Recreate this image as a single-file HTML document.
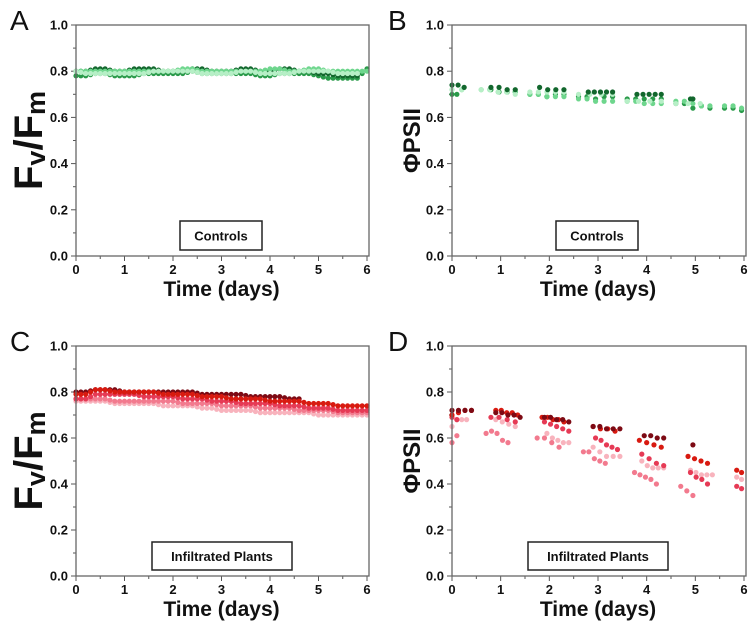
<!DOCTYPE html>
<html><head><meta charset="utf-8"><style>
body{margin:0;background:#fff}
svg{display:block;font-family:"Liberation Sans",Arial,sans-serif}
</style></head><body>
<svg id="fig" width="750" height="624" viewBox="0 0 750 624"></svg>
<script>
// ---- Data ----
const xTicks = [0,1,2,3,4,5,6];
const yTicks = [0.0,0.2,0.4,0.6,0.8,1.0];
const yTickLabels = ["0.0","0.2","0.4","0.6","0.8","1.0"];
const xTickLabels = ["0","1","2","3","4","5","6"];

// Panel A & C: continuous series sampled every 0.2 day from 0 to 6
const denseTimes = [0,0.2,0.4,0.6,0.8,1,1.2,1.4,1.6,1.8,2,2.2,2.4,2.6,2.8,3,3.2,3.4,3.6,3.8,4,4.2,4.4,4.6,4.8,5,5.2,5.4,5.6,5.8,6];
const aDark  = [0.80,0.80,0.81,0.81,0.80,0.80,0.81,0.81,0.81,0.80,0.80,0.80,0.81,0.81,0.80,0.80,0.80,0.81,0.81,0.80,0.80,0.81,0.81,0.80,0.80,0.79,0.79,0.78,0.78,0.78,null];
const aMid   = [0.78,0.78,0.79,0.79,0.78,0.78,0.78,0.79,0.79,0.79,0.79,0.79,0.80,0.79,0.79,0.79,0.79,0.79,0.79,0.78,0.78,0.79,0.79,0.79,0.79,0.78,0.77,0.77,0.77,0.77,0.81];
const aLight = [0.80,0.80,0.80,0.80,0.80,0.80,0.80,0.80,0.80,0.80,0.80,0.81,0.81,0.80,0.80,0.80,0.80,0.80,0.80,0.80,0.81,0.81,0.80,0.80,0.81,0.81,0.80,0.80,0.80,0.80,0.80];
const aPale  = [0.80,0.79,0.79,0.79,0.79,0.79,0.79,0.79,0.80,0.80,0.80,0.80,0.80,0.79,0.79,0.79,0.79,0.80,0.80,0.79,0.79,0.79,0.79,0.80,0.80,0.80,0.80,0.79,0.79,0.79,null];

const cDark   = [0.80,0.80,0.81,0.81,0.81,0.80,0.80,0.80,0.80,0.80,0.80,0.80,0.80,0.79,0.79,0.79,0.79,0.79,0.78,0.78,0.78,0.78,0.77,0.77,null,null,null,null,null,null,null];
const cRed    = [0.79,0.79,0.81,0.81,0.80,0.80,0.80,0.80,0.80,0.79,0.79,0.79,0.79,0.78,0.78,0.78,0.77,0.77,0.77,0.77,0.76,0.76,0.76,0.76,0.75,0.75,0.75,0.74,0.74,0.74,0.74];
const cCrimson= [0.77,0.77,0.79,0.79,0.79,0.79,0.79,0.78,0.78,0.78,0.78,0.77,0.77,0.77,0.76,0.76,0.76,0.75,0.75,0.75,0.75,0.74,0.74,0.74,0.73,0.73,0.73,0.72,0.72,0.72,0.72];
const cPink   = [0.77,0.77,0.77,0.77,0.76,0.76,0.76,0.76,0.76,0.76,0.76,0.75,0.75,0.75,0.75,0.74,0.74,0.74,0.74,0.73,0.73,0.73,0.73,0.72,0.72,0.72,0.72,0.71,0.71,0.71,0.71];
const cLight  = [0.76,0.76,0.76,0.76,0.75,0.75,0.75,0.75,0.75,0.74,0.74,0.74,0.74,0.73,0.73,0.72,0.72,0.72,0.72,0.71,0.71,0.71,0.71,0.71,0.71,0.70,0.70,0.70,0.70,0.70,0.70];

// Panel B & D: daily measurement segments [startDay, endDay, values...]
const bDark  = [[0,0.25,0.74,0.74,0.73],[0.8,1.3,0.73,0.73,0.72,0.72],[1.8,2.3,0.73,0.72,0.72,0.72],[2.8,3.3,0.71,0.71,0.71,0.71,0.71],[3.8,4.3,0.70,0.70,0.70,0.70,0.70],[4.9,4.95,0.68,0.68]];
const bMid   = [[0,0.1,0.70,0.70],[0.8,1.3,0.72,0.71,0.71,0.71],[1.6,2.3,0.70,0.70,0.69,0.70,0.70],[2.6,3.3,0.69,0.69,0.68,0.69,0.69],[3.6,4.3,0.68,0.68,0.68,0.68,0.68],[4.6,5.3,0.66,0.66,0.64,0.65,0.64],[5.6,5.95,0.64,0.64,0.63]];
const bLight = [[0,0.2,0.72,0.72],[0.6,1.3,0.72,0.72,0.71,0.71,0.71],[1.6,2.3,0.70,0.70,0.69,0.69,0.69],[2.6,3.3,0.68,0.68,0.67,0.67,0.67],[3.6,4.3,0.67,0.67,0.66,0.66,0.66],[4.6,5.3,0.67,0.67,0.66,0.65,0.65],[5.6,5.95,0.65,0.65,0.64]];
const bPale  = [[0,0.2,0.72,0.72],[0.6,1.3,0.72,0.72,0.71,0.71,0.70],[1.6,2.3,0.71,0.71,0.71,0.71,0.71],[2.6,3.3,0.70,0.70,0.70,0.70],[3.6,4.3,0.67,0.67,0.67,0.67],[4.6,5.1,0.66,0.66,0.66]];

const dDark  = [[0,0.4,0.72,0.72,0.72,0.72],[0.9,1.4,0.71,0.71,0.70,0.70,0.69],[1.9,2.4,0.69,0.69,0.68,0.68,0.67],[2.9,3.45,0.65,0.65,0.64,0.64,0.64],[3.95,4.35,0.61,0.61,0.60,0.60],[4.95,4.96,0.57]];
const dRed   = [[0,0.4,0.70,0.71,0.72,0.72],[0.9,1.35,0.72,0.72,0.71,0.71,0.70],[1.85,2.3,0.69,0.69,0.68,0.68,0.67],[2.9,3.35,0.65,0.64,0.64,0.63],[3.85,4.3,0.59,0.58,0.57,0.56],[4.85,5.25,0.52,0.51,0.50,0.49],[5.85,5.95,0.46,0.45]];
const dCrim  = [[0,0.1,0.69,0.68],[0.8,1.3,0.69,0.69,0.68,0.67],[1.9,2.4,0.67,0.66,0.65,0.64,0.63],[2.95,3.4,0.60,0.59,0.57,0.56,0.55],[3.9,4.35,0.53,0.51,0.49,0.48],[4.9,5.25,0.45,0.43,0.42,0.40],[5.85,5.95,0.39,0.38]];
const dPink  = [[0,0.1,0.58,0.61],[0.7,1.15,0.62,0.63,0.62,0.59,0.58],[1.75,2.2,0.60,0.60,0.58,0.56],[2.7,3.15,0.54,0.54,0.51,0.50,0.49],[3.75,4.2,0.45,0.44,0.43,0.42,0.40],[4.7,4.95,0.39,0.37,0.35]];
const dLight = [[0,0.3,0.65,0.68,0.68,0.68],[0.9,1.3,0.68,0.67,0.66,0.65],[1.95,2.4,0.62,0.60,0.59,0.58,0.58],[2.9,3.45,0.56,0.54,0.52,0.52,0.52],[3.9,4.35,0.50,0.48,0.47,0.47,0.47],[4.9,5.35,0.46,0.45,0.44,0.44,0.44],[5.85,5.95,0.43,0.42]];

// ---- Drawing ----
const NS = "http://www.w3.org/2000/svg";
const svg = document.getElementById('fig');
function mk(tag, attrs, parent, text){
  const e = document.createElementNS(NS, tag);
  for (const k in attrs) e.setAttribute(k, attrs[k]);
  if (text !== undefined) e.textContent = text;
  (parent||svg).appendChild(e);
  return e;
}

function panel(opts){
  const g = mk('g', {});
  
  
  const L=opts.x0, R=opts.x1, T=opts.y0, B=opts.y1;
  const xs = t => L + (t/6)*(R-L);
  const ys = v => B - v*(B-T);
  // ticks
  xTicks.forEach((t,i)=>{
    mk('line',{x1:xs(t),x2:xs(t),y1:B,y2:B+5,stroke:'#555','stroke-width':1},g);
    if(i<6) mk('line',{x1:xs(t+0.5),x2:xs(t+0.5),y1:B,y2:B+3,stroke:'#555','stroke-width':1},g);
    const tl = mk('text',{x:xs(t),y:B+18,'text-anchor':'middle','font-size':13,'font-weight':'bold',fill:'#111'},g,xTickLabels[i]);
    
    
  });
  yTicks.forEach((v,i)=>{
    mk('line',{x1:L-5,x2:L,y1:ys(v),y2:ys(v),stroke:'#555','stroke-width':1},g);
    if(i<5) mk('line',{x1:L-3,x2:L,y1:ys(v+0.1),y2:ys(v+0.1),stroke:'#555','stroke-width':1},g);
    const tl = mk('text',{x:L-8,y:ys(v)+4.5,'text-anchor':'end','font-size':13,'font-weight':'bold',fill:'#111'},g,yTickLabels[i]);
    
    
  });
  // series
  opts.series.forEach(s=>{
    const sg = mk('g',{fill:s.color},g);
    
    
    if (s.dense){
      s.values.forEach((v,i)=>{
        if(v===null) return;
        const c = mk('circle',{cx:xs(denseTimes[i]),cy:ys(v),r:2.6},sg);
        
        
        if(i<s.values.length-1 && s.values[i+1]!==null){
          const c2 = mk('circle',{cx:xs(denseTimes[i]+0.1),cy:ys((v+s.values[i+1])/2),r:2.6},sg);
          
          
        }
      });
    } else {
      s.values.forEach(seg=>{
        const t0=seg[0], t1=seg[1], vals=seg.slice(2);
        vals.forEach((v,j)=>{
          const t = vals.length>1 ? t0 + (t1-t0)*j/(vals.length-1) : t0;
          const c = mk('circle',{cx:xs(t),cy:ys(v),r:2.6},sg);
          
          
        });
      });
    }
  });
  // frame
  const fr = mk('rect',{x:L,y:T,width:R-L+2,height:B-T,fill:'none',stroke:'#666','stroke-width':1.3},g);
  
  
  // label box
  const bx = mk('rect',{x:opts.box[0],y:opts.box[1],width:opts.box[2],height:opts.box[3],fill:'#fff',stroke:'#222','stroke-width':1.5},g);
  
  
  const bt = mk('text',{x:opts.box[0]+opts.box[2]/2,y:opts.box[1]+opts.box[3]/2+5,'text-anchor':'middle','font-size':13,'font-weight':'bold',fill:'#111'},g,opts.boxText);
  
  
  // x title
  const xt = mk('text',{x:(L+R)/2,y:B+40,'text-anchor':'middle','font-size':21,'font-weight':'bold',fill:'#111'},g,'Time (days)');
  
  
  // y title
  const cy=(T+B)/2;
  let yt;
  if(opts.ytype==='fvfm'){
    yt = mk('text',{x:opts.ytx,y:cy,'text-anchor':'middle','font-size':40,'font-weight':'bold',fill:'#111',transform:`rotate(-90 ${opts.ytx} ${cy})`},g);
    mk('tspan',{},yt,'F');
    mk('tspan',{'font-size':27,dy:3},yt,'v');
    mk('tspan',{dy:-3},yt,'/F');
    mk('tspan',{'font-size':27,dy:3},yt,'m');
  } else {
    yt = mk('text',{x:opts.ytx,y:cy,'text-anchor':'middle','font-size':24,'font-weight':'bold',fill:'#111',transform:`rotate(-90 ${opts.ytx} ${cy})`},g,'ΦPSII');
  }
  
  
  // letter
  const lt = mk('text',{x:opts.letterX,y:opts.letterY,'font-size':28,fill:'#111'},g,opts.letter);
  
  
}

const gDark='#12672d', gMid='#2a9a4a', gLight='#6ed68d', gPale='#b6efc6';
const rDark='#7d0a14', rRed='#d81a10', rCrim='#e63a55', rPink='#f27a8e', rLight='#f8b3bd';

panel({name:'panel-a',x0:76,x1:367,y0:25,y1:256,letter:'A',letterX:10,letterY:30,ytype:'fvfm',ytx:42,
  box:[180,221,82,29],boxText:'Controls',
  series:[{name:'control-series-1',color:gMid,values:aMid,dense:true},{name:'control-series-2',color:gDark,values:aDark,dense:true},{name:'control-series-3',color:gLight,values:aLight,dense:true},{name:'control-series-4',color:gPale,values:aPale,dense:true}]});
panel({name:'panel-b',x0:452,x1:744,y0:25,y1:256,letter:'B',letterX:388,letterY:30,ytype:'phi',ytx:420,
  box:[556,221,82,29],boxText:'Controls',
  series:[{name:'control-series-1',color:gMid,values:bMid},{name:'control-series-3',color:gLight,values:bLight},{name:'control-series-4',color:gPale,values:bPale},{name:'control-series-2',color:gDark,values:bDark}]});
panel({name:'panel-c',x0:76,x1:367,y0:346,y1:576,letter:'C',letterX:10,letterY:351,ytype:'fvfm',ytx:42,
  box:[152,542,140,28],boxText:'Infiltrated Plants',
  series:[{name:'infiltrated-series-5',color:rLight,values:cLight,dense:true},{name:'infiltrated-series-4',color:rPink,values:cPink,dense:true},{name:'infiltrated-series-3',color:rCrim,values:cCrimson,dense:true},{name:'infiltrated-series-1',color:rDark,values:cDark,dense:true},{name:'infiltrated-series-2',color:rRed,values:cRed,dense:true}]});
panel({name:'panel-d',x0:452,x1:744,y0:346,y1:576,letter:'D',letterX:388,letterY:351,ytype:'phi',ytx:420,
  box:[528,542,140,28],boxText:'Infiltrated Plants',
  series:[{name:'infiltrated-series-5',color:rLight,values:dLight},{name:'infiltrated-series-4',color:rPink,values:dPink},{name:'infiltrated-series-3',color:rCrim,values:dCrim},{name:'infiltrated-series-2',color:rRed,values:dRed},{name:'infiltrated-series-1',color:rDark,values:dDark}]});
</script>
</body></html>
